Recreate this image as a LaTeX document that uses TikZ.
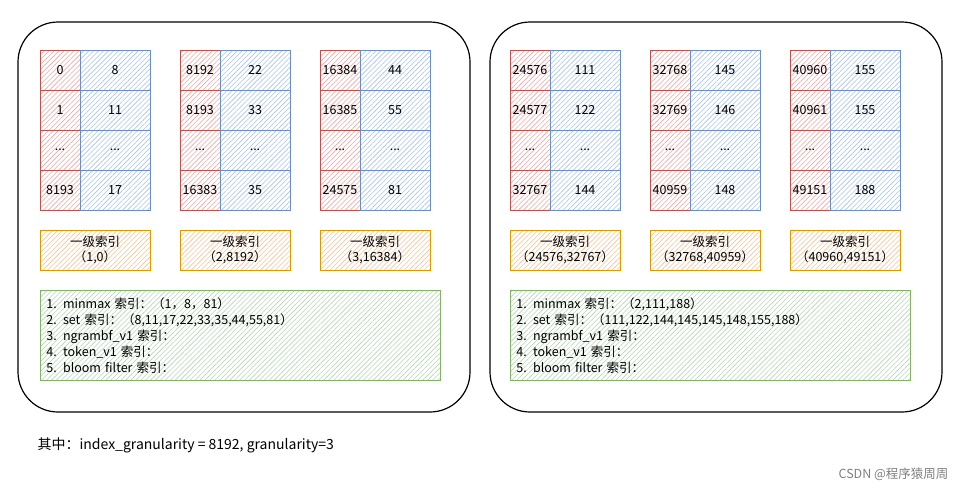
\documentclass[tikz,border=0pt]{standalone}
\usepackage{fontspec}
\setmainfont{Noto Sans CJK SC}
\usetikzlibrary{patterns.meta}
\definecolor{rd}{HTML}{B85450}\definecolor{rdf}{HTML}{EDA8A6}
\definecolor{bl}{HTML}{6C8EBF}\definecolor{blf}{HTML}{A9C4EB}
\definecolor{og}{HTML}{D79B00}\definecolor{ogf}{HTML}{F5C49A}
\definecolor{gr}{HTML}{82B366}\definecolor{grf}{HTML}{B7D6B5}
\tikzset{
 hat/.style={pattern={Lines[angle=45,distance=3.5pt,line width=0.6pt]}},
 redc/.style={draw=rd,line width=0.8pt,hat,pattern color=rdf,minimum width=40pt,minimum height=40pt,inner sep=0pt,font=\fontsize{12.5}{14}\selectfont},
 bluec/.style={draw=bl,line width=0.8pt,hat,pattern color=blf,minimum width=70pt,minimum height=40pt,inner sep=0pt,font=\fontsize{12.5}{14}\selectfont},
 orc/.style={draw=og,line width=0.8pt,hat,pattern color=ogf,minimum width=110pt,minimum height=40pt,inner sep=0pt,align=center,font=\fontsize{12.5}{15}\selectfont},
 grc/.style={draw=gr,line width=0.8pt,hat,pattern color=grf,minimum width=400pt,minimum height=90pt,inner sep=0pt,align=left,font=\fontsize{12.5}{16}\selectfont},
 outer/.style={draw=black,line width=1.2pt,rounded corners=40pt},
}
\begin{document}
\begin{tikzpicture}[x=1pt,y=-1pt]
\useasboundingbox[fill=white] (0,0) rectangle (961,496);
\draw[outer] (18,22) rectangle (470,412);
\draw[outer] (490,22) rectangle (942,412);
\foreach \g/\x/\la/\lb/\lc/\ra/\rb/\rc/\oa/\ob in {
 a/40/0/1/8193/8/11/17/1/0,
 b/180/8192/8193/16383/22/33/35/2/8192,
 c/320/16384/16385/24575/44/55/81/3/16384,
 d/510/24576/24577/32767/111/122/144/24576/32767,
 e/650/32768/32769/40959/145/146/148/32768/40959,
 f/790/40960/40961/49151/155/155/188/40960/49151}{
 \node[redc] (\g r1) at (\x+20,70) {\la};
 \node[redc] (\g r2) at (\x+20,110) {\lb};
 \node[redc] (\g r3) at (\x+20,150) {...};
 \node[redc] (\g r4) at (\x+20,190) {\lc};
 \node[bluec] (\g b1) at (\x+75,70) {\ra};
 \node[bluec] (\g b2) at (\x+75,110) {\rb};
 \node[bluec] (\g b3) at (\x+75,150) {...};
 \node[bluec] (\g b4) at (\x+75,190) {\rc};
 \node[orc] (\g o) at (\x+55,250) {一级索引\\（\oa,\ob）};
}
\node[grc,anchor=north west,text width=388pt] (g1) at (40,290) {1. minmax 索引：（1，8，81）\\2. set 索引：（8,11,17,22,33,35,44,55,81）\\3. ngrambf\_v1 索引：\\4. token\_v1 索引：\\5. bloom filter 索引：};
\node[grc,anchor=north west,text width=388pt] (g2) at (510,290) {1. minmax 索引：（2,111,188）\\2. set 索引：（111,122,144,145,145,148,155,188）\\3. ngrambf\_v1 索引：\\4. token\_v1 索引：\\5. bloom filter 索引：};
\node[anchor=west,font=\fontsize{14}{16}\selectfont] (note) at (34,445) {其中：index\_granularity = 8192, granularity=3};
\node[anchor=east,font=\fontsize{12.5}{14}\selectfont,text=gray] (wm) at (952,474) {CSDN @程序猿周周};
\end{tikzpicture}
\end{document}
